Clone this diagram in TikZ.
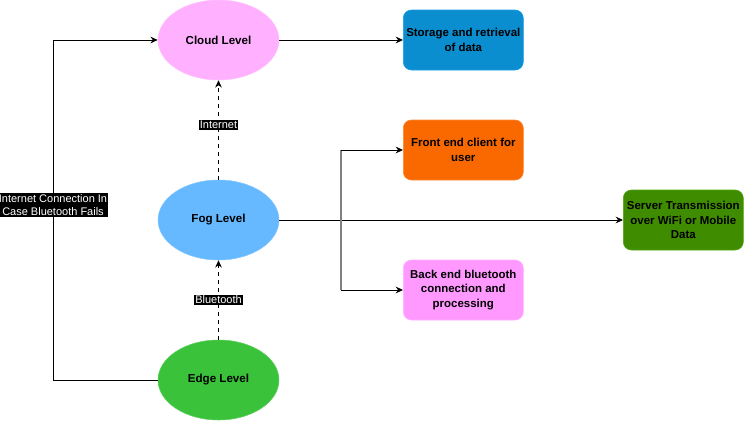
\documentclass[tikz,border=0pt]{standalone}
\usepackage{fontspec}
\setmainfont{Liberation Sans}
\usetikzlibrary{arrows.meta,shapes.geometric}
\definecolor{cloudc}{HTML}{FFB0FF}
\definecolor{fogc}{HTML}{66B8FF}
\definecolor{edgec}{HTML}{3AC23A}
\definecolor{storc}{HTML}{0A8ED0}
\definecolor{storb}{HTML}{1E9CE8}
\definecolor{frontc}{HTML}{FA6800}
\definecolor{frontb}{HTML}{FF8A33}
\definecolor{backc}{HTML}{FF99FF}
\definecolor{backb}{HTML}{FFB3FF}
\definecolor{servc}{HTML}{3F8C00}
\definecolor{servb}{HTML}{4FA80F}
\tikzset{
  lvl/.style={ellipse, minimum width=121*0.75pt, minimum height=80*0.75pt, inner sep=0pt, font=\fontsize{8.7}{11}\selectfont\bfseries, draw=#1!80!white, fill=#1},
  box/.style={rectangle, rounded corners=6pt, minimum width=120*0.75pt, minimum height=60*0.75pt, inner sep=1pt, align=center, font=\fontsize{8.6}{11}\selectfont\bfseries},
  arr/.style={-{Stealth[length=5.5pt,width=5pt,inset=1.8pt]}, line width=0.75pt},
  lab/.style={fill=black, text=white, inner sep=1pt, align=center, font=\fontsize{8.25}{10}\selectfont}
}
\begin{document}
\begin{tikzpicture}[x=0.75pt,y=-0.75pt]
\useasboundingbox (0,0) rectangle (744,421);
\node[lvl=cloudc] (cloud) at (218.5,40) {Cloud Level};
\node[lvl=fogc] (fog) at (218.5,220) {Fog Level};
\node[lvl=edgec] (edge) at (218.5,380) {Edge Level};
\node[box, fill=storc, draw=storb] (stor) at (463.3,40) {Storage and retrieval\\of data};
\node[box, fill=frontc, draw=frontb] (front) at (463.3,150) {Front end client for\\user};
\node[box, fill=backc, draw=backb] (back) at (463.3,290) {Back end bluetooth\\connection and\\processing};
\node[box, fill=servc, draw=servb] (serv) at (683.3,220) {Server Transmission\\over WiFi or Mobile\\Data};
\coordinate (bt) at (341,150);
\coordinate (bb) at (341,290);
\coordinate (lb) at (53,380);
\coordinate (lt) at (53,40);
\draw[arr] (cloud.east) -- (stor.west);
\draw[arr] (fog.east) -- (serv.west);
\draw[line width=0.9pt, black!50] (bt) -- (bb);
\draw[arr] (bt) -- (front.west);
\draw[arr] (bb) -- (back.west);
\draw[arr, dashed] (fog.north) -- node[lab, pos=0.55] {Internet} (cloud.south);
\draw[arr, dashed] (edge.north) -- node[lab, pos=0.5] {Bluetooth} (fog.south);
\draw[arr] (edge.west) -- (lb) -- node[lab, pos=0.515] {Internet Connection In\\Case Bluetooth Fails} (lt) -- (cloud.west);
\end{tikzpicture}
\end{document}
